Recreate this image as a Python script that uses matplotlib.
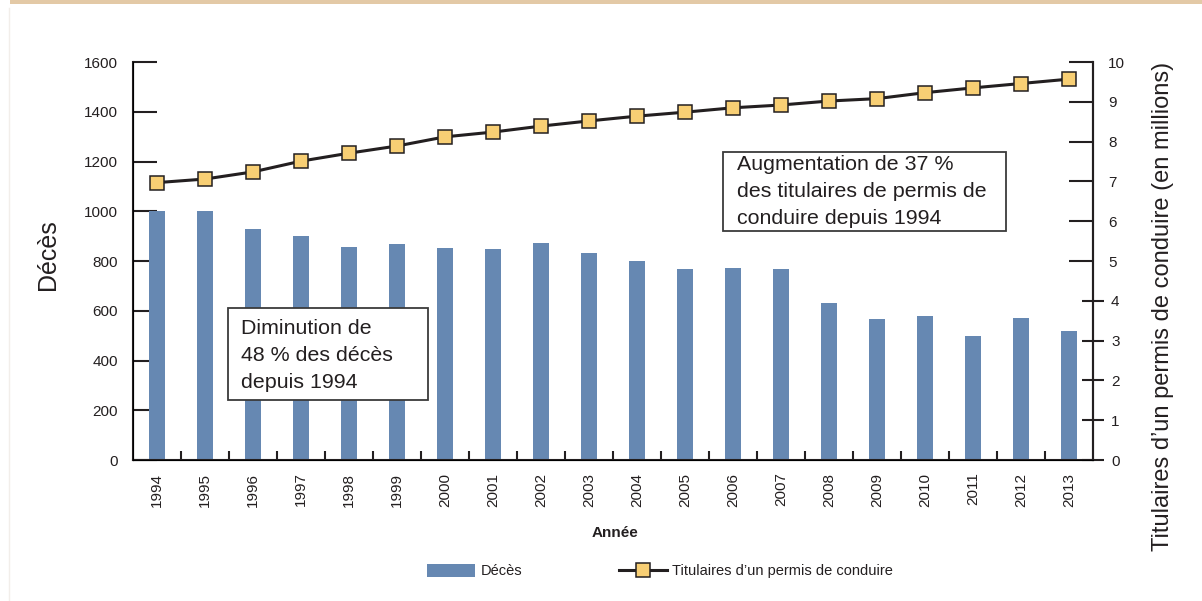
import matplotlib.pyplot as plt
from matplotlib.patches import Patch, Rectangle
from matplotlib.lines import Line2D
from matplotlib.ticker import FixedLocator, FixedFormatter

# ===================================================
# DATA
# ===================================================

years = [str(y) for y in range(1994, 2014)]

deces = [1000, 1000, 928, 900, 856, 868, 852, 848, 872, 832,
         800, 767, 772, 767, 631, 567, 579, 498, 571, 518]

titulaires = [6.97, 7.06, 7.24, 7.51, 7.71, 7.89, 8.12, 8.24, 8.39, 8.52,
              8.64, 8.74, 8.85, 8.92, 9.02, 9.08, 9.23, 9.35, 9.46, 9.57]

left_ticks = [0, 200, 400, 600, 800, 1000, 1200, 1400, 1600]
right_ticks_in = [5, 6, 7, 8, 9, 10]
right_ticks_cross = [0, 1, 2, 3, 4]

note_deces = "Diminution de\n48 % des décès\ndepuis 1994"
note_titulaires = "Augmentation de 37 %\ndes titulaires de permis de\nconduire depuis 1994"

# ===================================================
# STYLE
# ===================================================

plt.rcParams["font.family"] = ["Liberation Sans", "DejaVu Sans"]

dark = "#231f20"
bar_color = "#6688b2"
marker_fill = "#f8cf74"

# ===================================================
# PLOT
# ===================================================

fig = plt.figure(figsize=(12.02, 6.01), dpi=100)

ax = fig.add_axes([0.1107, 0.2346, 0.7986, 0.6622])
ax.set_axisbelow(True)

x = list(range(len(years)))

ax.bar(x, deces, width=0.33, color=bar_color, zorder=1)

ax.set_xlim(-0.5, len(years) - 0.5)
ax.set_ylim(0, 1600)

ax.set_yticks(left_ticks)
ax.tick_params(axis="y", direction="in", length=17, width=1.5,
               color=dark, labelsize=11, pad=11, labelcolor=dark)

ax.set_xticks(x)
ax.set_xticklabels(years, rotation=90)
ax.tick_params(axis="x", which="major", length=0, pad=9,
               labelsize=11, labelcolor=dark)
ax.set_xticks([i + 0.5 for i in range(len(years) - 1)], minor=True)
ax.tick_params(axis="x", which="minor", direction="in", length=6.5,
               width=1.5, color=dark)

for side in ["left", "bottom", "right"]:
    ax.spines[side].set_linewidth(1.5)
    ax.spines[side].set_color(dark)
ax.spines["top"].set_visible(False)

ax.set_ylabel("Décès", fontsize=18, color=dark)
ax.yaxis.set_label_coords(-0.076, 0.515)

# Second axis
ax2 = ax.twinx()

ax2.plot(x, titulaires, color=dark, linewidth=2.2,
         marker="s", markersize=10, markerfacecolor=marker_fill,
         markeredgecolor=dark, markeredgewidth=1.1, zorder=3)

ax2.set_ylim(0, 10)
ax2.spines["top"].set_visible(False)
ax2.spines["right"].set_linewidth(1.5)
ax2.spines["right"].set_color(dark)

ax2.yaxis.set_major_locator(FixedLocator(right_ticks_in))
ax2.yaxis.set_major_formatter(FixedFormatter([str(v) for v in right_ticks_in]))
ax2.yaxis.set_minor_locator(FixedLocator(right_ticks_cross))
ax2.yaxis.set_minor_formatter(FixedFormatter([str(v) for v in right_ticks_cross]))

ax2.tick_params(axis="y", which="major", direction="in", length=17,
                width=1.5, color=dark, labelsize=11, pad=11, labelcolor=dark)
ax2.tick_params(axis="y", which="minor", direction="inout", length=16,
                width=1.5, color=dark, labelsize=11, pad=5, labelcolor=dark,
                labelright=True)

ax2.set_ylabel("Titulaires d’un permis de conduire (en millions)",
               fontsize=17, color=dark)
ax2.yaxis.set_label_coords(1.0615, 0.386)

# Notes
ax2.add_patch(Rectangle((0.099, 0.151), 0.208, 0.231, transform=ax2.transAxes,
                        facecolor="white", edgecolor="#3a3a3a",
                        linewidth=1.3, zorder=5))
ax2.text(0.1125, 0.355, note_deces, transform=ax2.transAxes,
         fontsize=15.4, color=dark, va="top", ha="left",
         linespacing=1.55, zorder=6)

ax2.add_patch(Rectangle((0.6146, 0.575), 0.2944, 0.199, transform=ax2.transAxes,
                        facecolor="white", edgecolor="#3a3a3a",
                        linewidth=1.3, zorder=5))
ax2.text(0.629, 0.767, note_titulaires, transform=ax2.transAxes,
         fontsize=15.4, color=dark, va="top", ha="left",
         linespacing=1.55, zorder=6)

# X label
fig.text(615 / 1202, 1 - 533 / 601, "Année", fontsize=11,
         fontweight="bold", color=dark, ha="center", va="center")

# Legend
handles = [
    Patch(facecolor=bar_color, edgecolor="none"),
    Line2D([], [], color=dark, linewidth=2.2, marker="s", markersize=10,
           markerfacecolor=marker_fill, markeredgecolor=dark,
           markeredgewidth=1.1),
]
fig.legend(handles, ["Décès", "Titulaires d’un permis de conduire"],
           loc="center", bbox_to_anchor=(660 / 1202, 1 - 571 / 601),
           ncol=2, frameon=False, fontsize=10.5, handlelength=3.3,
           handleheight=1.05, handletextpad=0.4, columnspacing=6.6,
           labelcolor=dark)

# Page decorations
fig.patches.append(Rectangle((10 / 1202, 1 - 4 / 601), 1, 4 / 601,
                             transform=fig.transFigure, facecolor="#e3c9a6",
                             edgecolor="none"))
fig.lines.append(Line2D([9 / 1202, 9 / 1202], [0, 1 - 8 / 601],
                        transform=fig.transFigure, color="#f2eeea",
                        linewidth=1))

# ===================================================
# SAVE
# ===================================================

plt.savefig("out.png", dpi=100)
